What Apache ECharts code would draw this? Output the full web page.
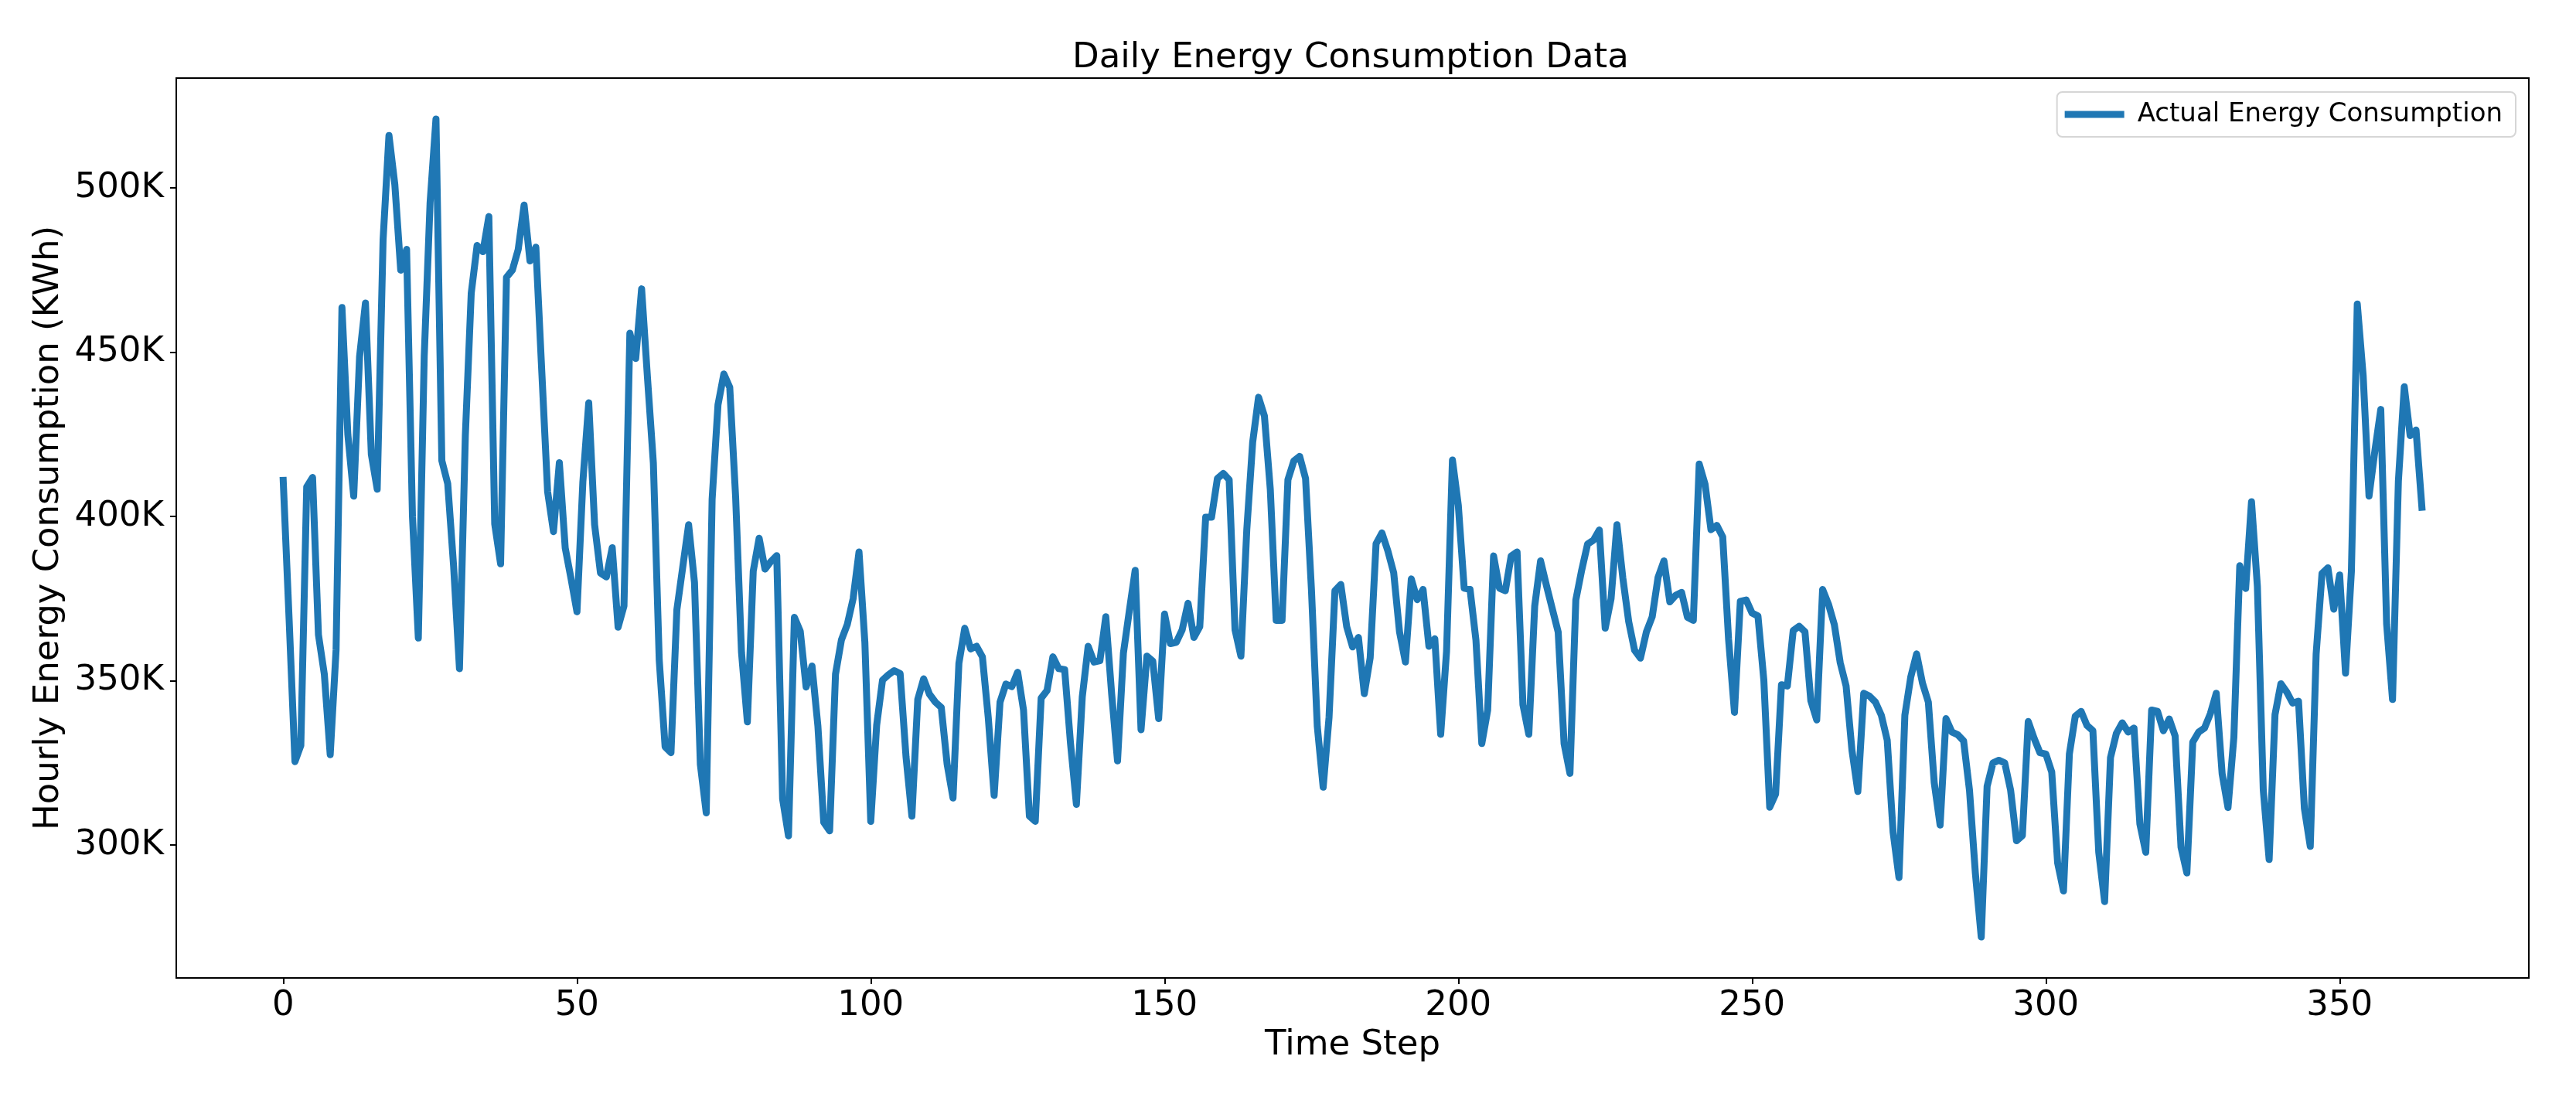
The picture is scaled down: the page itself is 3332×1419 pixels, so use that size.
<!DOCTYPE html>
<html>
<head>
<meta charset="utf-8">
<script src="https://cdn.jsdelivr.net/npm/echarts@6/dist/echarts.min.js"></script>
<style>
  html, body { margin: 0; padding: 0; background: #fff; }
  #chart { width: 3332px; height: 1419px; }
</style>
</head>
<body>
<div id="chart"></div>
<script>
// Hourly energy consumption per time step, in thousands of kWh
const consumptionK = [
  411, 369, 325.4, 330.3, 409, 411.9, 364, 352, 327.5, 359.4,
  463.6, 425, 406.2, 448.7, 465.0, 418.9, 408.3, 484.2, 516, 501,
  475, 481.3, 400, 363, 448.7, 495.5, 521, 417, 410, 385,
  353.7, 424.6, 467.9, 482.5, 480.6, 491.3, 397.7, 385.6, 472.8, 475,
  481.3, 494.8, 477.8, 482, 444.5, 407.6, 395.4, 416.4, 390.4, 381,
  371, 410.5, 434.6, 397.5, 382.8, 381.6, 390.5, 366.3, 372.8, 455.8,
  448.1, 469.3, 442.2, 416.3, 356.3, 329.9, 328.1, 371.6, 384.6, 397.5,
  379.9, 324.5, 309.8, 405.2, 434.0, 443.4, 439.3, 406, 358.7, 337.5,
  383.4, 393.4, 384, 386.3, 388.1, 314.0, 302.8, 369.3, 365.1, 348.1,
  354.5, 336.3, 306.9, 304.3, 352, 362.4, 367.1, 375, 389.2, 361.6,
  307.2, 336.4, 350.2, 351.8, 353.1, 352.2, 326.9, 308.8, 344.3, 350.6,
  345.9, 343.5, 341.9, 324.6, 314.3, 355.3, 366.0, 359.7, 360.5, 357.3,
  338.8, 315.1, 343.5, 349.0, 348.2, 352.6, 341.1, 308.8, 307.2, 344.7,
  347.0, 357.3, 353.7, 353.4, 330.9, 312.4, 345.1, 360.5, 355.7, 356.1,
  369.5, 346, 325.6, 358.4, 371.2, 383.6, 335.1, 357.5, 356.0, 338.5,
  370.3, 361.3, 361.7, 365.5, 373.6, 363.2, 366.5, 399.8, 399.8, 411.6,
  413.1, 411.2, 365.5, 357.5, 396.0, 422.6, 436.3, 430.6, 408.3, 368.4,
  368.4, 411.2, 416.9, 418.3, 411.6, 377.9, 336.1, 317.6, 338.9, 377.4,
  379.3, 366.5, 360.3, 363.2, 346.1, 357.0, 391.7, 395.0, 389.6, 382.9,
  364.8, 355.7, 381.0, 374.7, 377.8, 360.5, 362.8, 333.7, 359, 417.2,
  403.4, 378.2, 377.8, 362.4, 330.9, 341.1, 388.0, 378.2, 377.4, 388.0,
  389.2, 342.7, 333.7, 372.7, 386.5, 379.0, 371.9, 364.8, 330.9, 321.8,
  374.6, 383.7, 391.6, 392.8, 395.9, 366.0, 375.0, 397.5, 381.3, 368.0,
  359.3, 356.9, 364.8, 369.5, 381.5, 386.5, 374.0, 376.0, 376.9, 369.3,
  368.4, 416.0, 409.8, 396.0, 397.3, 393.8, 362.6, 340.4, 374.2, 374.6,
  370.6, 369.7, 350.2, 311.5, 315.5, 348.8, 348.4, 365.3, 366.6, 364.9,
  343.9, 338.1, 377.8, 373.3, 367.1, 355.5, 348.4, 328.8, 316.3, 346.2,
  345.3, 343.5, 339.5, 331.9, 303.9, 290.1, 339.5, 351.1, 358.2, 349.3,
  343.5, 319.0, 306.1, 338.5, 334.4, 333.6, 331.7, 316.7, 291.5, 272.0,
  317.9, 325.0, 325.8, 325.0, 316.7, 301.3, 302.9, 337.6, 332.5, 328.1,
  327.7, 322.2, 294.6, 286.0, 327.7, 339.2, 340.7, 336.4, 334.8, 297.8,
  282.8, 326.6, 334.0, 337.2, 334.4, 335.6, 306.4, 297.8, 341.1, 340.7,
  334.8, 338.4, 333.2, 299.4, 291.5, 331.3, 334.4, 335.6, 340.0, 346.2,
  321.7, 311.4, 332.9, 385.0, 378.1, 404.5, 378.7, 316.8, 295.6, 339.7,
  349.1, 346.6, 343.2, 343.8, 311.1, 299.6, 358.1, 382.7, 384.4, 371.8,
  382.2, 352.3, 383.3, 464.7, 442.9, 406.2, 420.0, 432.6, 367.2, 344.3,
  410.8, 439.5, 424.6, 426.3, 402.8
];
const xTicks = [0, 50, 100, 150, 200, 250, 300, 350];
const yTicks = [300000, 350000, 400000, 450000, 500000];
const seriesName = 'Actual Energy Consumption';
const titleText = 'Daily Energy Consumption Data';
const xAxisName = 'Time Step';
const yAxisName = 'Hourly Energy Consumption (KWh)';

const seriesData = consumptionK.map((v, i) => [i, v * 1000]);

// matplotlib-like 5% margins
const xs = seriesData.map(d => d[0]);
const ys = seriesData.map(d => d[1]);
const xMin0 = Math.min(...xs), xMax0 = Math.max(...xs);
const yMin0 = Math.min(...ys), yMax0 = Math.max(...ys);
const xPad = (xMax0 - xMin0) * 0.05, yPad = (yMax0 - yMin0) * 0.05;

const FONT = 'DejaVu Sans';
const chart = echarts.init(document.getElementById('chart'), null, { renderer: 'canvas' });
chart.setOption({
  animation: false,
  backgroundColor: '#ffffff',
  title: {
    text: titleText,
    left: 1387,
    top: 53,
    padding: 0,
    textStyle: { fontFamily: FONT, fontSize: 45, fontWeight: 'normal', color: '#000' }
  },
  legend: {
    data: [{ name: seriesName, icon: 'rect' }],
    right: 78,
    top: 119,
    orient: 'vertical',
    itemWidth: 77,
    itemHeight: 9,
    itemGap: 0,
    padding: [12, 17, 12, 10],
    backgroundColor: 'rgba(255,255,255,0.8)',
    borderColor: '#d6d6d6',
    borderWidth: 2,
    borderRadius: 7,
    textStyle: { fontFamily: FONT, fontSize: 34, color: '#000', padding: [0, 0, 0, 12] }
  },
  grid: {
    left: 228, right: 61, top: 101, bottom: 154,
    show: true, borderColor: '#000', borderWidth: 2, backgroundColor: 'transparent',
    containLabel: false
  },
  xAxis: {
    type: 'value',
    min: xMin0 - xPad,
    max: xMax0 + xPad,
    name: xAxisName,
    nameLocation: 'middle',
    nameGap: 65,
    nameTextStyle: { fontFamily: FONT, fontSize: 45, color: '#000', verticalAlign: 'top' },
    axisLine: { show: true, onZero: false, lineStyle: { color: '#000', width: 2 } },
    axisTick: { show: true, length: 8, inside: false, customValues: xTicks, lineStyle: { color: '#000', width: 2 } },
    axisLabel: { show: true, customValues: xTicks, margin: 14, fontFamily: FONT, fontSize: 45, color: '#000' },
    splitLine: { show: false }
  },
  yAxis: {
    type: 'value',
    min: yMin0 - yPad,
    max: yMax0 + yPad,
    name: yAxisName,
    nameLocation: 'middle',
    nameGap: 139,
    nameRotate: 90,
    nameTextStyle: { fontFamily: FONT, fontSize: 45, color: '#000' },
    axisLine: { show: true, onZero: false, lineStyle: { color: '#000', width: 2 } },
    axisTick: { show: true, length: 8, inside: false, customValues: yTicks, lineStyle: { color: '#000', width: 2 } },
    axisLabel: {
      show: true, customValues: yTicks, margin: 16, fontFamily: FONT, fontSize: 45, color: '#000',
      formatter: v => (v / 1000) + 'K'
    },
    splitLine: { show: false }
  },
  series: [{
    name: seriesName,
    type: 'line',
    data: seriesData,
    showSymbol: false,
    symbol: 'none',
    color: '#1f77b4',
    lineStyle: { width: 9, color: '#1f77b4', join: 'round', cap: 'square' },
    emphasis: { disabled: true }
  }]
});
</script>
</body>
</html>
